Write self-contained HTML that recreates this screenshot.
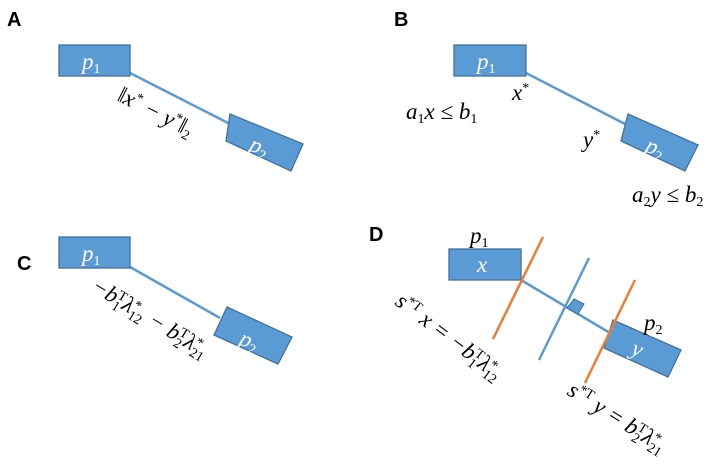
<!DOCTYPE html>
<html><head><meta charset="utf-8"><style>
html,body{margin:0;padding:0;background:#fff;}
svg{display:block}
.lbl{font-family:"Liberation Sans",Arial,sans-serif;font-weight:bold;font-size:20px;fill:#000}
.m{font-family:"Liberation Serif",serif;font-style:italic;font-size:23px;fill:#000}
.w{font-family:"Liberation Serif",serif;font-style:italic;font-size:23px;fill:#fff}
.s{font-size:14px;font-style:normal}
</style></head><body>
<svg width="719" height="470" viewBox="0 0 719 470" xmlns="http://www.w3.org/2000/svg">
<!-- Panel A -->
<text class="lbl" x="7" y="26">A</text>
<line x1="130" y1="73" x2="232" y2="125" stroke="#5B9BD5" stroke-width="2.5"/>
<rect x="59" y="45" width="71" height="31" fill="#5B9BD5" stroke="#41719C" stroke-width="1.3"/>
<text class="w" x="82" y="69">p<tspan class="s" dy="4">1</tspan></text>
<polygon points="230,114 303,144 291,171 226,141" fill="#5B9BD5" stroke="#41719C" stroke-width="1.3"/>
<text class="w" transform="translate(248,150) rotate(22)">p<tspan class="s" dy="4">2</tspan></text>
<text class="m" transform="translate(116,100) rotate(27)">‖x<tspan class="s" dy="-8">*</tspan><tspan dy="8"> − y</tspan><tspan class="s" dy="-8">*</tspan><tspan dy="8">‖</tspan><tspan class="s" dy="4">2</tspan></text>

<!-- Panel B -->
<text class="lbl" x="394" y="26">B</text>
<line x1="526" y1="73" x2="627" y2="125" stroke="#5B9BD5" stroke-width="2.5"/>
<rect x="454" y="45" width="72" height="31" fill="#5B9BD5" stroke="#41719C" stroke-width="1.3"/>
<text class="w" x="477" y="69">p<tspan class="s" dy="4">1</tspan></text>
<polygon points="628,114 698,145 685,171 621,141" fill="#5B9BD5" stroke="#41719C" stroke-width="1.3"/>
<text class="w" transform="translate(644,151) rotate(22)">p<tspan class="s" dy="4">2</tspan></text>
<text class="m" x="512" y="100">x<tspan class="s" dy="-8">*</tspan></text>
<text class="m" x="406" y="119">a<tspan class="s" dy="4">1</tspan><tspan dy="-4">x ≤ b</tspan><tspan class="s" dy="4">1</tspan></text>
<text class="m" x="583" y="147">y<tspan class="s" dy="-8">*</tspan></text>
<text class="m" x="632" y="202">a<tspan class="s" dy="4">2</tspan><tspan dy="-4">y ≤ b</tspan><tspan class="s" dy="4">2</tspan></text>

<!-- Panel C -->
<text class="lbl" x="17" y="270">C</text>
<line x1="130" y1="267" x2="220" y2="318" stroke="#5B9BD5" stroke-width="2.5"/>
<rect x="59" y="237" width="71" height="31" fill="#5B9BD5" stroke="#41719C" stroke-width="1.3"/>
<text class="w" x="82" y="261">p<tspan class="s" dy="4">1</tspan></text>
<polygon points="227,307 292,337 278,364 214,335" fill="#5B9BD5" stroke="#41719C" stroke-width="1.3"/>
<text class="w" transform="translate(238,344) rotate(22)">p<tspan class="s" dy="4">2</tspan></text>
<text class="m" transform="translate(90,290) rotate(31)">−b<tspan class="s" dy="5">1</tspan><tspan class="s" dy="-12" dx="-7">T</tspan><tspan dy="7">λ</tspan><tspan class="s" dy="5">12</tspan><tspan class="s" dy="-12" dx="-14">*</tspan><tspan dy="7" dx="8"> − b</tspan><tspan class="s" dy="5">2</tspan><tspan class="s" dy="-12" dx="-7">T</tspan><tspan dy="7">λ</tspan><tspan class="s" dy="5">21</tspan><tspan class="s" dy="-12" dx="-14">*</tspan></text>

<!-- Panel D -->
<text class="lbl" x="369" y="241">D</text>
<text class="m" x="470" y="243">p<tspan class="s" dy="4">1</tspan></text>
<line x1="521" y1="280" x2="610" y2="333" stroke="#5B9BD5" stroke-width="2.5"/>
<rect x="449" y="249" width="72" height="31" fill="#5B9BD5" stroke="#41719C" stroke-width="1.3"/>
<text class="w" x="477" y="272">x</text>
<line x1="543" y1="237" x2="493" y2="339" stroke="#ED7D31" stroke-width="2.5"/>
<line x1="589" y1="258" x2="539" y2="360" stroke="#5B9BD5" stroke-width="2.5"/>
<polygon points="574,299 584,304 578,314 567,308" fill="#5B9BD5" stroke="#41719C" stroke-width="1"/>
<polygon points="613,320 681,350 668,377 604,348" fill="#5B9BD5" stroke="#41719C" stroke-width="1.3"/>
<line x1="635" y1="280" x2="585" y2="383" stroke="#ED7D31" stroke-width="2.5"/>
<text class="w" transform="translate(630,354) rotate(22)">y</text>
<text class="m" x="644" y="330">p<tspan class="s" dy="4">2</tspan></text>
<text class="m" transform="translate(394,304) rotate(37)">s<tspan class="s" dy="-8">*T</tspan><tspan dy="8"> x = −b</tspan><tspan class="s" dy="5">1</tspan><tspan class="s" dy="-12" dx="-7">T</tspan><tspan dy="7">λ</tspan><tspan class="s" dy="5">12</tspan><tspan class="s" dy="-12" dx="-14">*</tspan></text>
<text class="m" transform="translate(566,394) rotate(32)">s<tspan class="s" dy="-8">*T</tspan><tspan dy="8"> y = b</tspan><tspan class="s" dy="5">2</tspan><tspan class="s" dy="-12" dx="-7">T</tspan><tspan dy="7">λ</tspan><tspan class="s" dy="5">21</tspan><tspan class="s" dy="-12" dx="-14">*</tspan></text>
</svg>
</body></html>
